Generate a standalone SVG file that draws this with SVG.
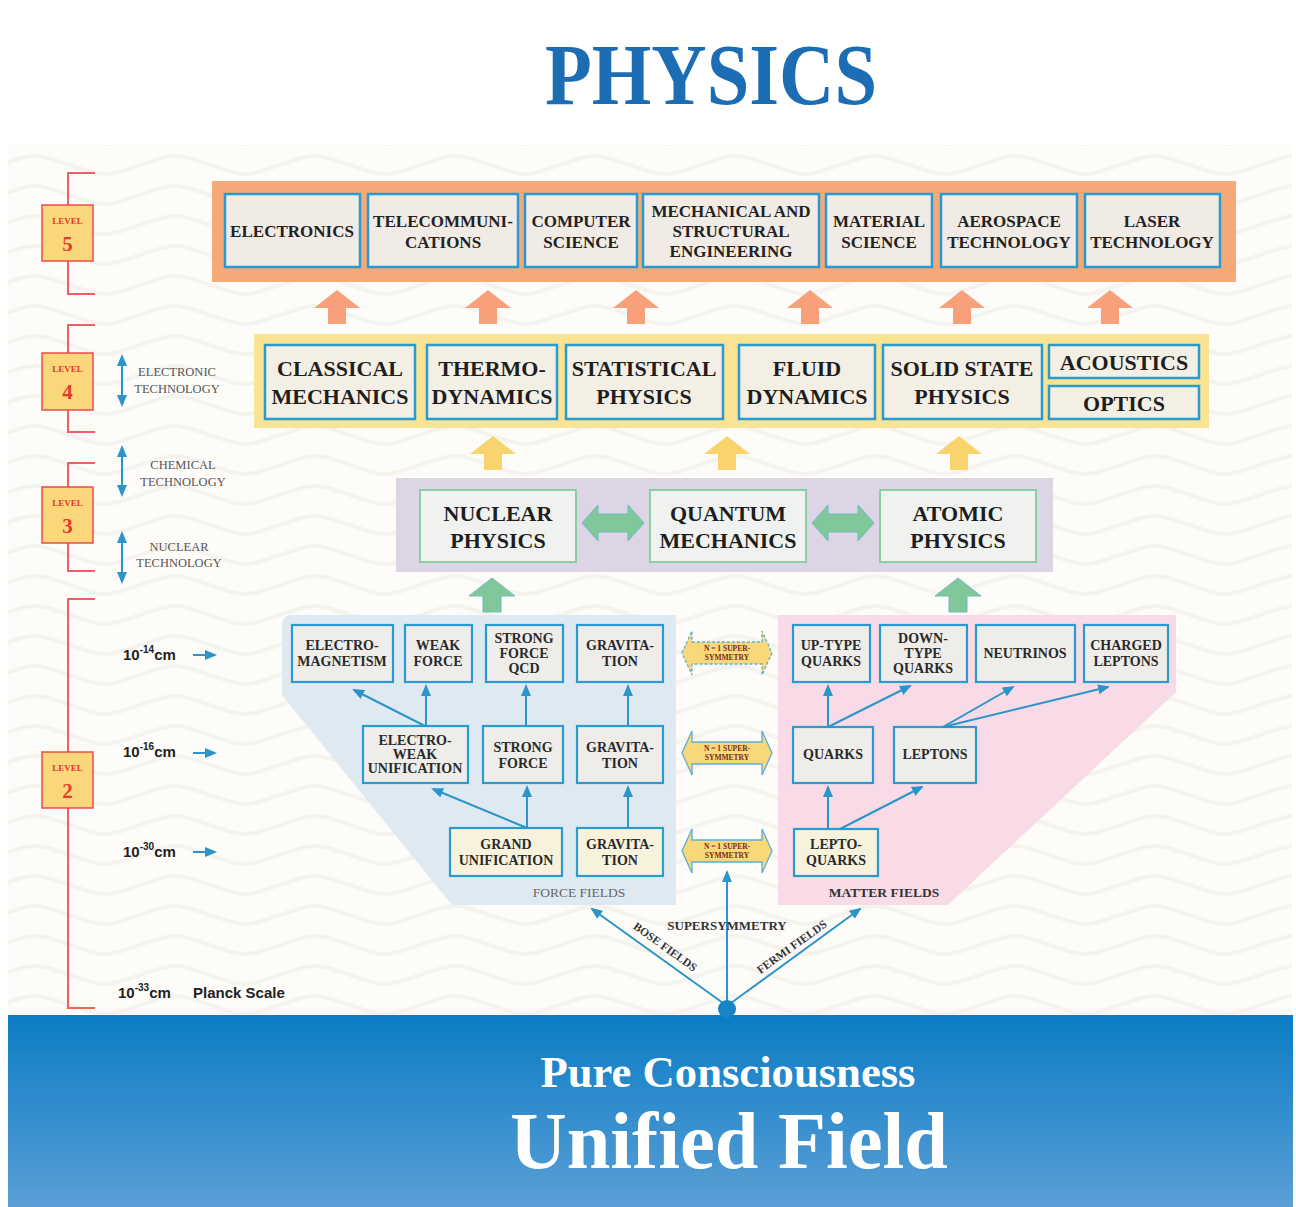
<svg xmlns="http://www.w3.org/2000/svg" width="1296" height="1207" viewBox="0 0 1296 1207">
<style>
.serif{font-family:"Liberation Serif","DejaVu Serif",serif}
.sans{font-family:"Liberation Sans",Arial,sans-serif}
.t5{font-family:"Liberation Serif",serif;font-weight:bold;font-size:17px;fill:#222;text-anchor:middle}
.t4{font-family:"Liberation Serif",serif;font-weight:bold;font-size:22px;fill:#1e1e1e;text-anchor:middle}
.t2{font-family:"Liberation Serif",serif;font-weight:bold;font-size:14px;fill:#2a2a2a;text-anchor:middle}
.b5{fill:#f1ebe5;stroke:#2a9bd0;stroke-width:2.5}
.b4{fill:#f4efe5;stroke:#2a9bd0;stroke-width:2.5}
.b3{fill:#eff2ee;stroke:#86d0a2;stroke-width:2}
.b2{fill:#eeedea;stroke:#2a9bd0;stroke-width:2.2}
.b2c{fill:#f6f2dc;stroke:#2a9bd0;stroke-width:2.2}
.lvbox{fill:#fad77a;stroke:#ee4b4b;stroke-width:1.5}
.lvl{font-family:"Liberation Serif",serif;font-weight:bold;fill:#e33a2c;text-anchor:middle}
.brk{fill:none;stroke:#ef5f68;stroke-width:2}
.con{stroke:#2b95c9;stroke-width:2;fill:none}
.tech{font-family:"Liberation Serif",serif;font-size:12.5px;fill:#555;text-anchor:middle}
.scale{font-family:"Liberation Sans",Arial,sans-serif;font-weight:bold;font-size:15px;fill:#222}
.susy{fill:#f8d878;stroke:#5aaed6;stroke-width:1.3}
.susyt{font-family:"Liberation Serif",serif;font-weight:bold;font-size:7.5px;fill:#7a2a1a;text-anchor:middle}
.oarr{fill:#f7a079}
.yarr{fill:#f9d46e}
.garr{fill:#80c89a;stroke:#6cbcc0;stroke-width:1}
</style>
<defs>
<pattern id="waves" width="140" height="30" patternUnits="userSpaceOnUse">
<path d="M0,15 C35,3 35,3 70,15 S105,27 140,15" fill="none" stroke="#f5f3ee" stroke-width="4"/>
</pattern>
<linearGradient id="sea" x1="0" y1="0" x2="0" y2="1">
<stop offset="0" stop-color="#0b7cc4"/>
<stop offset="1" stop-color="#5a9fd6"/>
</linearGradient>
<marker id="ah" viewBox="0 0 12 10" refX="10" refY="5" markerWidth="12" markerHeight="10" markerUnits="userSpaceOnUse" orient="auto-start-reverse">
<path d="M0,0 L12,5 L0,10 Z" fill="#2b95c9"/>
</marker>
<path id="up" d="M0,0 L23,18 L9,18 L9,34 L-9,34 L-9,18 L-23,18 Z"/>
<path id="dbl" d="M-45,0 L-35,-22 L-35,-11 L35,-11 L35,-22 L45,0 L35,22 L35,11 L-35,11 L-35,22 Z"/>
</defs>

<rect width="1296" height="1207" fill="#ffffff"/>
<rect x="8" y="145" width="1284" height="870" fill="#fdfcf9"/>
<rect x="8" y="145" width="1284" height="870" fill="url(#waves)"/>

<g id="title">
<text class="serif" x="711" y="104" font-size="86" font-weight="bold" fill="#1c6db3" text-anchor="middle" textLength="332" lengthAdjust="spacingAndGlyphs">PHYSICS</text>
</g>

<!-- Level markers -->
<g id="level5-marker">
<path class="brk" d="M95,173 H68 V294 H95"/>
<rect class="lvbox" x="42" y="205" width="51" height="56"/>
<text class="lvl" x="67.5" y="224" font-size="9">LEVEL</text>
<text class="lvl" x="67.5" y="251" font-size="21">5</text>
</g>
<g id="level4-marker">
<path class="brk" d="M95,325 H68 V432 H95"/>
<rect class="lvbox" x="42" y="353" width="51" height="57"/>
<text class="lvl" x="67.5" y="372" font-size="9">LEVEL</text>
<text class="lvl" x="67.5" y="399" font-size="21">4</text>
</g>
<g id="level3-marker">
<path class="brk" d="M95,463 H68 V571 H95"/>
<rect class="lvbox" x="42" y="487" width="51" height="56"/>
<text class="lvl" x="67.5" y="506" font-size="9">LEVEL</text>
<text class="lvl" x="67.5" y="533" font-size="21">3</text>
</g>
<g id="level2-marker">
<path class="brk" d="M95,599 H68 V1008 H95"/>
<rect class="lvbox" x="42" y="752" width="51" height="56"/>
<text class="lvl" x="67.5" y="771" font-size="9">LEVEL</text>
<text class="lvl" x="67.5" y="798" font-size="21">2</text>
</g>

<g id="tech-labels">
<text class="tech" x="177" y="376">ELECTRONIC</text>
<text class="tech" x="177" y="393">TECHNOLOGY</text>
<text class="tech" x="183" y="469">CHEMICAL</text>
<text class="tech" x="183" y="486">TECHNOLOGY</text>
<text class="tech" x="179" y="551">NUCLEAR</text>
<text class="tech" x="179" y="567">TECHNOLOGY</text>
</g>

<g id="scale-labels">
<text class="scale" x="123" y="660">10<tspan font-size="10" dy="-7">-14</tspan><tspan dy="7">cm</tspan></text>
<text class="scale" x="123" y="757">10<tspan font-size="10" dy="-7">-16</tspan><tspan dy="7">cm</tspan></text>
<text class="scale" x="123" y="857">10<tspan font-size="10" dy="-7">-30</tspan><tspan dy="7">cm</tspan></text>
<text class="scale" x="118" y="998">10<tspan font-size="10" dy="-7">-33</tspan><tspan dy="7">cm</tspan></text>
<text class="scale" x="193" y="998">Planck Scale</text>
</g>

<!-- Bands -->
<rect id="band5" x="212" y="181" width="1024" height="101" fill="#f5a979"/>
<rect id="band4" x="254" y="334" width="955" height="94" fill="#fbe394"/>
<rect id="band3" x="396" y="478" width="657" height="94" fill="#ddd4e6"/>
<path id="force-region" d="M282,625 Q282,615 292,615 L676,615 L676,905 L452,905 L282,695 Z" fill="#dfe9f2"/>
<path id="matter-region" d="M778,615 L1176,615 L1176,692 L948,905 L778,905 Z" fill="#f8dbe6"/>

<!-- Level 5 nodes -->
<g id="electronics"><rect class="b5" x="225" y="194" width="135" height="73"/><text class="t5" x="292" y="237">ELECTRONICS</text></g>
<g id="telecom"><rect class="b5" x="368" y="194" width="150" height="73"/><text class="t5" x="443" y="227">TELECOMMUNI-</text><text class="t5" x="443" y="248">CATIONS</text></g>
<g id="computer-science"><rect class="b5" x="525" y="194" width="112" height="73"/><text class="t5" x="581" y="227">COMPUTER</text><text class="t5" x="581" y="248">SCIENCE</text></g>
<g id="mech-struct-eng"><rect class="b5" x="643" y="194" width="176" height="73"/><text class="t5" x="731" y="217">MECHANICAL AND</text><text class="t5" x="731" y="237">STRUCTURAL</text><text class="t5" x="731" y="257">ENGINEERING</text></g>
<g id="material-science"><rect class="b5" x="826" y="194" width="106" height="73"/><text class="t5" x="879" y="227">MATERIAL</text><text class="t5" x="879" y="248">SCIENCE</text></g>
<g id="aerospace"><rect class="b5" x="941" y="194" width="136" height="73"/><text class="t5" x="1009" y="227">AEROSPACE</text><text class="t5" x="1009" y="248">TECHNOLOGY</text></g>
<g id="laser"><rect class="b5" x="1085" y="194" width="135" height="73"/><text class="t5" x="1152" y="227">LASER</text><text class="t5" x="1152" y="248">TECHNOLOGY</text></g>

<!-- Level 4 nodes -->
<g id="classical-mechanics"><rect class="b4" x="265" y="345" width="150" height="74"/><text class="t4" x="340" y="376">CLASSICAL</text><text class="t4" x="340" y="404">MECHANICS</text></g>
<g id="thermodynamics"><rect class="b4" x="427" y="345" width="130" height="74"/><text class="t4" x="492" y="376">THERMO-</text><text class="t4" x="492" y="404">DYNAMICS</text></g>
<g id="statistical-physics"><rect class="b4" x="566" y="345" width="157" height="74"/><text class="t4" x="644" y="376">STATISTICAL</text><text class="t4" x="644" y="404">PHYSICS</text></g>
<g id="fluid-dynamics"><rect class="b4" x="739" y="345" width="136" height="74"/><text class="t4" x="807" y="376">FLUID</text><text class="t4" x="807" y="404">DYNAMICS</text></g>
<g id="solid-state"><rect class="b4" x="883" y="345" width="159" height="74"/><text class="t4" x="962" y="376">SOLID STATE</text><text class="t4" x="962" y="404">PHYSICS</text></g>
<g id="acoustics"><rect class="b4" x="1049" y="345" width="150" height="33"/><text class="t4" x="1124" y="370">ACOUSTICS</text></g>
<g id="optics"><rect class="b4" x="1049" y="386" width="150" height="33"/><text class="t4" x="1124" y="411">OPTICS</text></g>

<!-- Level 3 nodes -->
<g id="nuclear-physics"><rect class="b3" x="420" y="490" width="156" height="72"/><text class="t4" x="498" y="521">NUCLEAR</text><text class="t4" x="498" y="548">PHYSICS</text></g>
<g id="quantum-mechanics"><rect class="b3" x="650" y="490" width="156" height="72"/><text class="t4" x="728" y="521">QUANTUM</text><text class="t4" x="728" y="548">MECHANICS</text></g>
<g id="atomic-physics"><rect class="b3" x="880" y="490" width="156" height="72"/><text class="t4" x="958" y="521">ATOMIC</text><text class="t4" x="958" y="548">PHYSICS</text></g>

<!-- Level 2 force nodes -->
<g id="electromagnetism"><rect class="b2" x="292" y="625" width="101" height="57"/><text class="t2" x="342" y="650">ELECTRO-</text><text class="t2" x="342" y="666">MAGNETISM</text></g>
<g id="weak-force"><rect class="b2" x="405" y="625" width="67" height="57"/><text class="t2" x="438" y="650">WEAK</text><text class="t2" x="438" y="666">FORCE</text></g>
<g id="strong-force-qcd"><rect class="b2" x="486" y="625" width="77" height="57"/><text class="t2" x="524" y="643">STRONG</text><text class="t2" x="524" y="658">FORCE</text><text class="t2" x="524" y="673">QCD</text></g>
<g id="gravitation-14"><rect class="b2" x="577" y="625" width="86" height="57"/><text class="t2" x="620" y="650">GRAVITA-</text><text class="t2" x="620" y="666">TION</text></g>
<g id="electroweak"><rect class="b2" x="363" y="726" width="105" height="57"/><text class="t2" x="415" y="745">ELECTRO-</text><text class="t2" x="415" y="759">WEAK</text><text class="t2" x="415" y="773">UNIFICATION</text></g>
<g id="strong-force"><rect class="b2" x="483" y="726" width="80" height="57"/><text class="t2" x="523" y="752">STRONG</text><text class="t2" x="523" y="768">FORCE</text></g>
<g id="gravitation-16"><rect class="b2" x="577" y="726" width="86" height="57"/><text class="t2" x="620" y="752">GRAVITA-</text><text class="t2" x="620" y="768">TION</text></g>
<g id="grand-unification"><rect class="b2c" x="450" y="828" width="112" height="48"/><text class="t2" x="506" y="849">GRAND</text><text class="t2" x="506" y="865">UNIFICATION</text></g>
<g id="gravitation-30"><rect class="b2c" x="577" y="828" width="86" height="48"/><text class="t2" x="620" y="849">GRAVITA-</text><text class="t2" x="620" y="865">TION</text></g>
<text id="force-fields-label" class="serif" x="579" y="897" font-size="13.5" fill="#666" text-anchor="middle">FORCE FIELDS</text>

<!-- Level 2 matter nodes -->
<g id="up-type-quarks"><rect class="b2" x="793" y="625" width="77" height="57"/><text class="t2" x="831" y="650">UP-TYPE</text><text class="t2" x="831" y="666">QUARKS</text></g>
<g id="down-type-quarks"><rect class="b2" x="880" y="625" width="87" height="57"/><text class="t2" x="923" y="643">DOWN-</text><text class="t2" x="923" y="658">TYPE</text><text class="t2" x="923" y="673">QUARKS</text></g>
<g id="neutrinos"><rect class="b2" x="976" y="625" width="99" height="57"/><text class="t2" x="1025" y="658">NEUTRINOS</text></g>
<g id="charged-leptons"><rect class="b2" x="1084" y="625" width="84" height="57"/><text class="t2" x="1126" y="650">CHARGED</text><text class="t2" x="1126" y="666">LEPTONS</text></g>
<g id="quarks"><rect class="b2" x="793" y="727" width="80" height="56"/><text class="t2" x="833" y="759">QUARKS</text></g>
<g id="leptons"><rect class="b2" x="894" y="727" width="82" height="56"/><text class="t2" x="935" y="759">LEPTONS</text></g>
<g id="leptoquarks"><rect class="b2c" x="794" y="829" width="84" height="47"/><text class="t2" x="836" y="849">LEPTO-</text><text class="t2" x="836" y="865">QUARKS</text></g>
<text id="matter-fields-label" class="serif" x="884" y="897" font-size="13.5" font-weight="bold" fill="#333" text-anchor="middle">MATTER FIELDS</text>

<!-- Supersymmetry double arrows -->
<g id="susy-14"><use href="#dbl" class="susy" x="727" y="653" stroke-dasharray="3 2"/><text class="susyt" x="727" y="651">N = 1 SUPER-</text><text class="susyt" x="727" y="660">SYMMETRY</text></g>
<g id="susy-16"><use href="#dbl" class="susy" x="727" y="753"/><text class="susyt" x="727" y="751">N = 1 SUPER-</text><text class="susyt" x="727" y="760">SYMMETRY</text></g>
<g id="susy-30"><use href="#dbl" class="susy" x="727" y="851"/><text class="susyt" x="727" y="849">N = 1 SUPER-</text><text class="susyt" x="727" y="858">SYMMETRY</text></g>

<!-- Connectors -->
<g id="connectors">
<use href="#up" class="oarr" x="337" y="290"/>
<use href="#up" class="oarr" x="488" y="290"/>
<use href="#up" class="oarr" x="636" y="290"/>
<use href="#up" class="oarr" x="810" y="290"/>
<use href="#up" class="oarr" x="962" y="290"/>
<use href="#up" class="oarr" x="1110" y="290"/>
<use href="#up" class="yarr" x="493" y="436"/>
<use href="#up" class="yarr" x="727" y="436"/>
<use href="#up" class="yarr" x="959" y="436"/>
<use href="#up" class="garr" x="492" y="578"/>
<use href="#up" class="garr" x="958" y="578"/>
<path class="garr" d="M582,523 L598,505 L598,514 L628,514 L628,505 L644,523 L628,541 L628,532 L598,532 L598,541 Z"/>
<path class="garr" d="M812,523 L828,505 L828,514 L858,514 L858,505 L874,523 L858,541 L858,532 L828,532 L828,541 Z"/>
<line class="con" x1="425" y1="726" x2="354" y2="690" marker-end="url(#ah)"/>
<line class="con" x1="426" y1="726" x2="426" y2="686" marker-end="url(#ah)"/>
<line class="con" x1="526" y1="726" x2="526" y2="686" marker-end="url(#ah)"/>
<line class="con" x1="628" y1="726" x2="628" y2="686" marker-end="url(#ah)"/>
<line class="con" x1="527" y1="828" x2="433" y2="789" marker-end="url(#ah)"/>
<line class="con" x1="527" y1="828" x2="527" y2="787" marker-end="url(#ah)"/>
<line class="con" x1="628" y1="828" x2="628" y2="787" marker-end="url(#ah)"/>
<line class="con" x1="828" y1="727" x2="828" y2="686" marker-end="url(#ah)"/>
<line class="con" x1="828" y1="727" x2="910" y2="686" marker-end="url(#ah)"/>
<line class="con" x1="943" y1="727" x2="1013" y2="687" marker-end="url(#ah)"/>
<line class="con" x1="943" y1="727" x2="1108" y2="687" marker-end="url(#ah)"/>
<line class="con" x1="828" y1="829" x2="828" y2="787" marker-end="url(#ah)"/>
<line class="con" x1="840" y1="829" x2="922" y2="787" marker-end="url(#ah)"/>
<line class="con" x1="727" y1="1003" x2="727" y2="872" marker-end="url(#ah)"/>
<line class="con" x1="723" y1="1003" x2="592" y2="909" marker-end="url(#ah)"/>
<line class="con" x1="731" y1="1003" x2="860" y2="909" marker-end="url(#ah)"/>
<line class="con" x1="193" y1="655" x2="215" y2="655" marker-end="url(#ah)"/>
<line class="con" x1="193" y1="753" x2="215" y2="753" marker-end="url(#ah)"/>
<line class="con" x1="193" y1="852" x2="215" y2="852" marker-end="url(#ah)"/>
<line class="con" x1="122" y1="356" x2="122" y2="405" marker-start="url(#ah)" marker-end="url(#ah)"/>
<line class="con" x1="122" y1="447" x2="122" y2="495" marker-start="url(#ah)" marker-end="url(#ah)"/>
<line class="con" x1="122" y1="533" x2="122" y2="582" marker-start="url(#ah)" marker-end="url(#ah)"/>
</g>

<g id="supersymmetry-labels">
<text class="serif" x="727" y="930" font-size="13" font-weight="bold" fill="#333" text-anchor="middle">SUPERSYMMETRY</text>
<text class="serif" font-size="11.5" font-weight="bold" fill="#333" text-anchor="middle" transform="translate(663,950) rotate(35.7)">BOSE FIELDS</text>
<text class="serif" font-size="11.5" font-weight="bold" fill="#333" text-anchor="middle" transform="translate(794,950) rotate(-35.7)">FERMI FIELDS</text>
</g>

<!-- Unified field base -->
<g id="unified-field">
<rect x="8" y="1015" width="1285" height="192" fill="url(#sea)"/>
<circle cx="727" cy="1009" r="9" fill="#1784c6"/>
<text class="serif" x="728" y="1087" font-size="44" font-weight="bold" fill="#ffffff" text-anchor="middle" textLength="375" lengthAdjust="spacingAndGlyphs">Pure Consciousness</text>
<text class="serif" x="729" y="1168" font-size="80" font-weight="bold" fill="#ffffff" text-anchor="middle" textLength="438" lengthAdjust="spacingAndGlyphs">Unified Field</text>
</g>
</svg>
